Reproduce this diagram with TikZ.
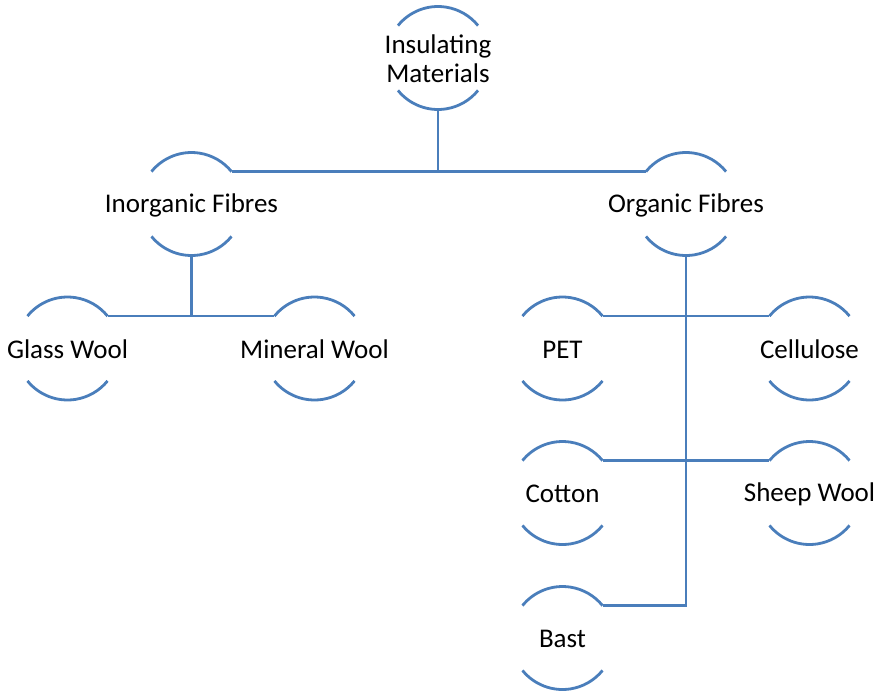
\documentclass[tikz,border=0pt]{standalone}
\usepackage{fontspec}
\setmainfont{Carlito}
\usetikzlibrary{calc}
\definecolor{arcblue}{RGB}{74,126,187}

\begin{document}
\begin{tikzpicture}[x=1pt, y=1pt, every node/.style={font=\fontsize{27}{29}\selectfont, align=center}]
    \tikzset{arcline/.style={draw=arcblue, line width=2.8pt}}
    \tikzset{link/.style={draw=arcblue, line width=2.8pt}}
    \useasboundingbox (0,0) rectangle (880,-694);

    % Top
    \node (ins) at (438,-59) {Insulating\\Materials};

    % Second level
    \node (inorg) at (191.5,-205) {Inorganic Fibres};
    \node (org) at (686,-205) {Organic Fibres};

    % Inorganic branch
    \node (glass) at (67.5,-349.5) {Glass Wool};
    \node (mineral) at (314.5,-349.5) {Mineral Wool};

    % Organic branch
    \node (pet) at (562.5,-349.5) {PET};
    \node (cell) at (809.5,-349.5) {Cellulose};
    \node (cotton) at (562.5,-494) {Cotton};
    \node (sheep) at (809.5,-494) {Sheep Wool};
    \node (bast) at (562.5,-639) {Bast};

    % Arcs round each item
    \foreach \n in {ins,inorg,org,glass,mineral,pet,cell,cotton,sheep,bast} {
        \draw [arcline] ($(\n.center)+(0,1)+(141:51.5)$) coordinate (\n-l)
            arc[start angle=141, end angle=39, radius=51.5] coordinate (\n-r);
        \draw [arcline] ($(\n.center)+(0,1)+(219:51.5)$)
            arc[start angle=219, end angle=321, radius=51.5];
        \path ($(\n.center)+(0,1)+(270:51.5)$) coordinate (\n-b);
    }

    \draw [link] (inorg-r) -- (org-l);
    \draw [link] (ins-b) -- (ins-b |- inorg-r);

    \draw [link] (glass-r) -- (mineral-l);
    \draw [link] (inorg-b) -- (inorg-b |- glass-r);

    \draw [link] (pet-r) -- (cell-l);
    \draw [link] (cotton-r) -- (sheep-l);
    \draw [link] (org-b) |- (bast-r);
\end{tikzpicture}
\end{document}
